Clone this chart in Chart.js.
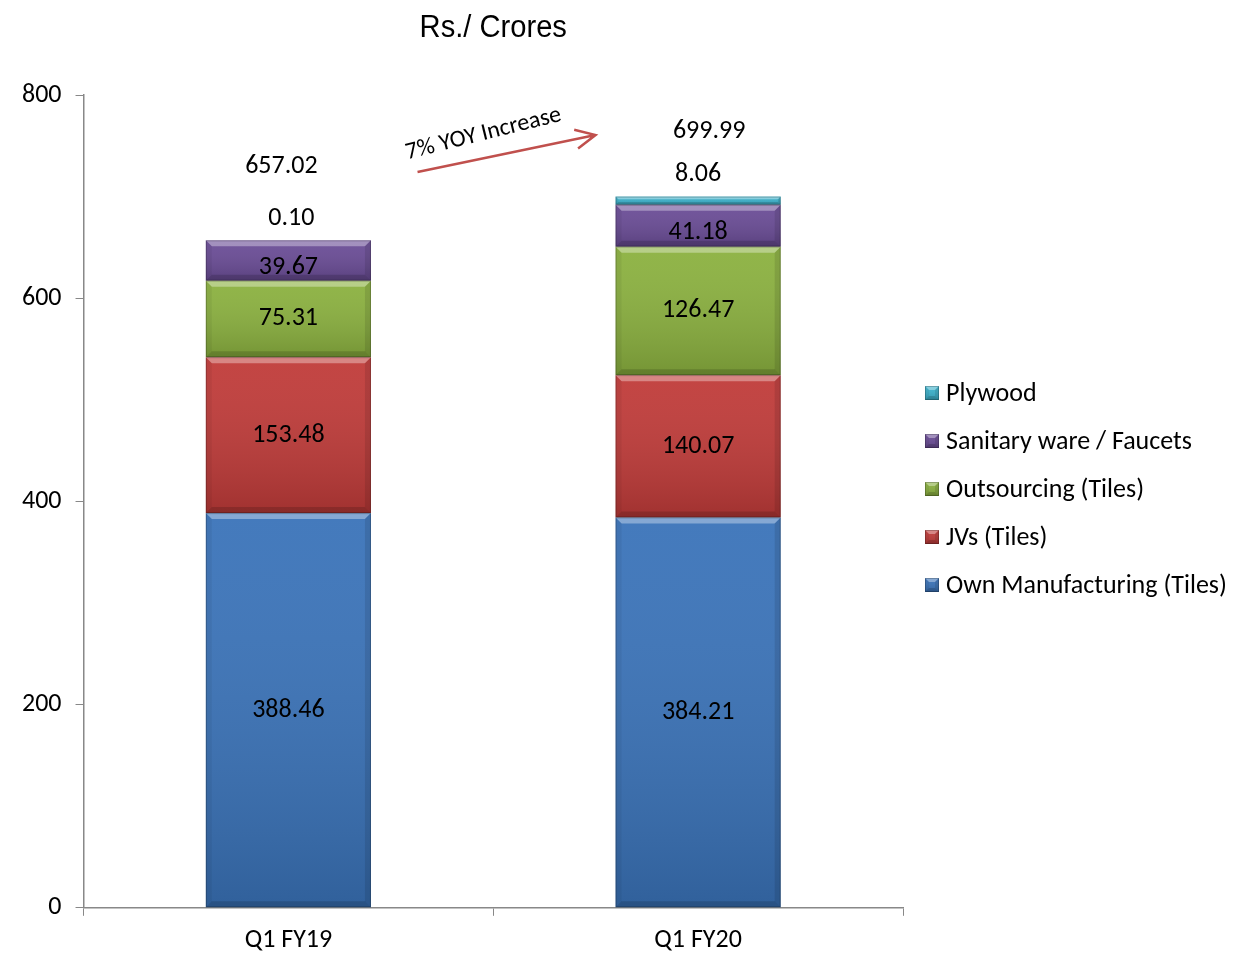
<!DOCTYPE html>
<html>
<head>
<meta charset="utf-8">
<script src="https://cdn.jsdelivr.net/npm/chart.js@4.4.1/dist/chart.umd.min.js"></script>
<style>
html,body{margin:0;padding:0;background:#fff;}
#wrap{width:1249px;height:965px;}
</style>
</head>
<body>
<div id="wrap"><canvas id="c" width="1249" height="965"></canvas></div>
<script>
const categories = ['Q1 FY19', 'Q1 FY20'];
const ownManufacturing = [388.46, 384.21];
const jvs = [153.48, 140.07];
const outsourcing = [75.31, 126.47];
const sanitary = [39.67, 41.18];
const plywood = [0.10, 8.06];
const totals = [657.02, 699.99];
const yTicks = [0, 200, 400, 600, 800];
const titleText = 'Rs./ Crores';
const noteText = '7% YOY Increase';

const FONT = 'Carlito, Calibri, Lato, "Noto Sans", sans-serif';
const FS = 26;

const fills = ['#3a73b9', '#c03b39', '#8bb13f', '#6a4c96', '#3cb2cc'];

function bevel(ctx, l, t, r, b, maxB) {
  const h = b - t;
  if (h < 1) return;
  const bv = Math.min(maxB, h / 3);
  const g = ctx.createLinearGradient(0, t, 0, b);
  g.addColorStop(0, 'rgba(255,255,255,0.05)');
  g.addColorStop(1, 'rgba(0,0,0,0.16)');
  ctx.fillStyle = g;
  ctx.fillRect(l, t, r - l, h);
  const poly = (pts, c) => {
    ctx.beginPath();
    ctx.moveTo(pts[0][0], pts[0][1]);
    for (let i = 1; i < pts.length; i++) ctx.lineTo(pts[i][0], pts[i][1]);
    ctx.closePath();
    ctx.fillStyle = c;
    ctx.fill();
  };
  poly([[l, t], [r, t], [r - bv, t + bv], [l + bv, t + bv]], 'rgba(255,255,255,0.35)');
  poly([[l, b], [r, b], [r - bv, b - bv], [l + bv, b - bv]], 'rgba(0,0,0,0.15)');
  poly([[l, t], [l + bv, t + bv], [l + bv, b - bv], [l, b]], 'rgba(0,0,0,0.05)');
  poly([[r, t], [r - bv, t + bv], [r - bv, b - bv], [r, b]], 'rgba(0,0,0,0.10)');
  ctx.strokeStyle = 'rgba(0,0,0,0.22)';
  ctx.lineWidth = 1;
  ctx.strokeRect(l + 0.5, t + 0.5, r - l - 1, h - 1);
}

const bevelPlugin = {
  id: 'bevel',
  afterDatasetsDraw(chart) {
    const ctx = chart.ctx;
    chart.data.datasets.forEach((ds, di) => {
      const meta = chart.getDatasetMeta(di);
      meta.data.forEach(el => {
        const p = el.getProps(['x', 'y', 'base', 'width'], true);
        ctx.save();
        bevel(ctx, p.x - p.width / 2, Math.min(p.y, p.base), p.x + p.width / 2, Math.max(p.y, p.base), 6);
        ctx.restore();
      });
    });
  }
};

const labelPlugin = {
  id: 'labels',
  afterDatasetsDraw(chart) {
    const ctx = chart.ctx;
    ctx.save();
    ctx.fillStyle = '#000';
    ctx.textAlign = 'center';
    ctx.textBaseline = 'middle';
    ctx.font = FS + 'px ' + FONT;
    const n = chart.data.datasets.length;
    chart.data.datasets.forEach((ds, di) => {
      const meta = chart.getDatasetMeta(di);
      meta.data.forEach((el, i) => {
        const p = el.getProps(['x', 'y', 'base'], true);
        const txt = ds.data[i].toFixed(2);
        if (di === n - 1) {
          ctx.fillText(txt, p.x + (i === 0 ? 3 : 0), Math.min(p.y, p.base) - 22);
        } else {
          ctx.fillText(txt, p.x, (p.y + p.base) / 2 + (di === n - 2 ? 7 : 0));
        }
      });
    });
    const lastMeta = chart.getDatasetMeta(n - 1);
    lastMeta.data.forEach((el, i) => {
      const p = el.getProps(['x', 'y'], true);
      ctx.fillText(totals[i].toFixed(2), p.x + (i === 0 ? -7 : 11), p.y - (i === 0 ? 74 : 65));
    });
    const ca = chart.chartArea;
    // title
    ctx.font = '31px "Liberation Sans", Arial, sans-serif';
    ctx.save();
    ctx.translate((ca.left + ca.right) / 2, 28);
    ctx.scale(0.94, 1);
    ctx.fillText(titleText, 0, 0);
    ctx.restore();
    // arrow
    const x0 = ca.left + 334, y0 = 172, x1 = ca.left + 512, y1 = 135;
    ctx.strokeStyle = '#c0504d';
    ctx.lineWidth = 2.5;
    ctx.beginPath();
    ctx.moveTo(x0, y0);
    ctx.lineTo(x1, y1);
    const ang = Math.atan2(y1 - y0, x1 - x0);
    const hl = 22;
    ctx.moveTo(x1 + hl * Math.cos(ang + Math.PI - 0.45), y1 + hl * Math.sin(ang + Math.PI - 0.45));
    ctx.lineTo(x1, y1);
    ctx.lineTo(x1 + hl * Math.cos(ang + Math.PI + 0.45), y1 + hl * Math.sin(ang + Math.PI + 0.45));
    ctx.stroke();
    ctx.save();
    ctx.translate(ca.left + 400, 134);
    ctx.rotate(-14 * Math.PI / 180);
    ctx.font = '24px ' + FONT;
    ctx.fillStyle = '#000';
    ctx.fillText(noteText, 0, 0);
    ctx.restore();
    // legend
    const items = chart.data.datasets.map((d, i) => ({ text: d.label, color: d.backgroundColor })).reverse();
    ctx.textAlign = 'left';
    ctx.font = FS + 'px ' + FONT;
    const lx = ca.right + 22, ly = 393, step = 48;
    items.forEach((it, k) => {
      const cy = ly + step * k;
      ctx.fillStyle = it.color;
      ctx.fillRect(lx, cy - 7, 14, 14);
      bevel(ctx, lx, cy - 7, lx + 14, cy + 7, 4);
      ctx.fillStyle = '#000';
      ctx.fillText(it.text, lx + 21, cy + 1);
    });
    ctx.restore();
  }
};

const mkDs = (label, data, color) => ({
  label, data, backgroundColor: color, borderWidth: 0,
  barPercentage: 0.403, categoryPercentage: 1.0
});

new Chart(document.getElementById('c'), {
  type: 'bar',
  data: {
    labels: categories,
    datasets: [
      mkDs('Own Manufacturing (Tiles)', ownManufacturing, fills[0]),
      mkDs('JVs (Tiles)', jvs, fills[1]),
      mkDs('Outsourcing (Tiles)', outsourcing, fills[2]),
      mkDs('Sanitary ware / Faucets', sanitary, fills[3]),
      mkDs('Plywood', plywood, fills[4])
    ]
  },
  options: {
    responsive: false,
    animation: false,
    layout: { padding: { top: 95, left: 8, right: 346, bottom: 0 } },
    plugins: {
      tooltip: { enabled: false },
      title: { display: false },
      legend: { display: false }
    },
    scales: {
      x: {
        stacked: true,
        grid: { display: true, drawOnChartArea: false, drawTicks: true, tickLength: 8, color: '#888', offset: true },
        border: { color: '#888', width: 1.5 },
        ticks: { color: '#000', font: { size: FS, family: FONT }, padding: 9 }
      },
      y: {
        stacked: true,
        min: 0, max: 800,
        afterBuildTicks(scale) { scale.ticks = yTicks.map(v => ({ value: v })); },
        grid: { display: true, drawOnChartArea: false, drawTicks: true, tickLength: 8, color: '#888' },
        border: { color: '#888', width: 1.5 },
        ticks: { color: '#000', font: { size: FS, family: FONT }, padding: 14 }
      }
    }
  },
  plugins: [bevelPlugin, labelPlugin]
});
</script>
</body>
</html>
